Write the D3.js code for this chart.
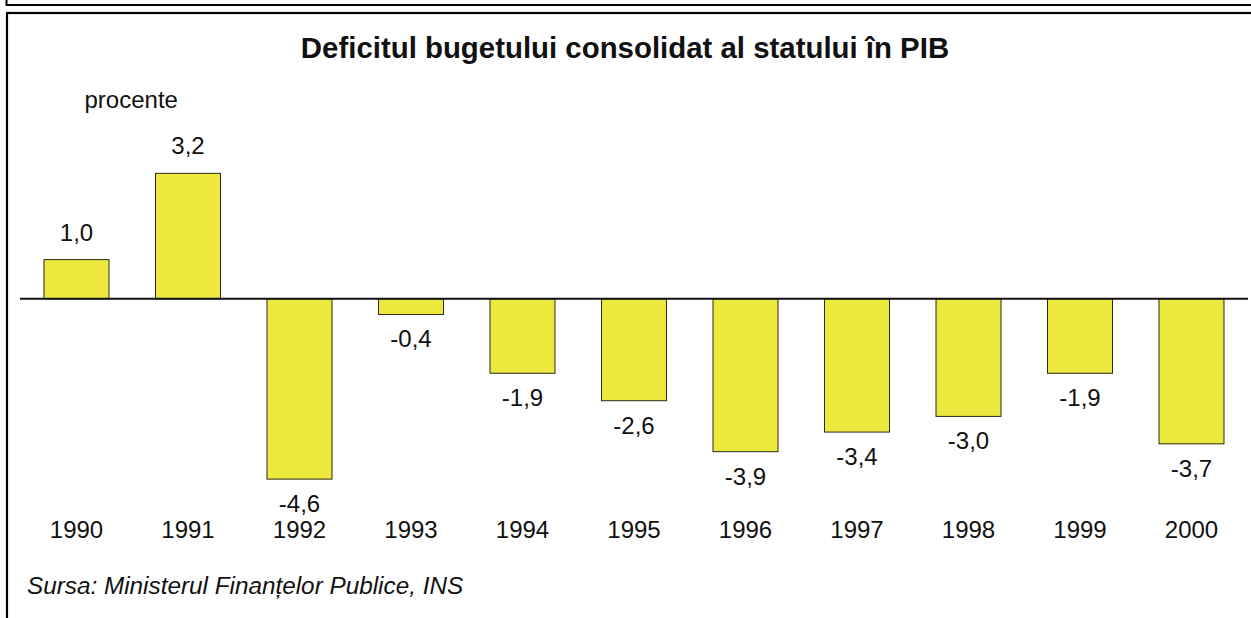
<!DOCTYPE html>
<html>
<head>
<meta charset="utf-8">
<script src="https://cdn.jsdelivr.net/npm/d3@7"></script>
<style>
  html, body { margin: 0; padding: 0; background: #fff; }
  svg { display: block; }
  text { font-family: "Liberation Sans", Arial, Helvetica, sans-serif; fill: #111; }
</style>
</head>
<body>
<svg id="chart" width="1251" height="618"></svg>
<script>
const years = ["1990","1991","1992","1993","1994","1995","1996","1997","1998","1999","2000"];
const values = [1.0, 3.2, -4.6, -0.4, -1.9, -2.6, -3.9, -3.4, -3.0, -1.9, -3.7];
const valueLabels = ["1,0","3,2","-4,6","-0,4","-1,9","-2,6","-3,9","-3,4","-3,0","-1,9","-3,7"];
const titleText = "Deficitul bugetului consolidat al statului în PIB";
const unitText = "procente";
const sourceText = "Sursa: Ministerul Finanțelor Publice, INS";

const svg = d3.select("#chart");

// frames
svg.append("path").attr("d", "M6.5,0 V5 H1251")
  .attr("fill", "none").attr("stroke", "#000").attr("stroke-width", 2);
svg.append("rect").attr("x", 7).attr("y", 13).attr("width", 1400).attr("height", 800)
  .attr("fill", "none").attr("stroke", "#000").attr("stroke-width", 2.2);

const pad = 0.417;
const x = d3.scaleBand().domain(years).range([20.75, 1247.25])
  .paddingInner(pad).paddingOuter(pad / 2);
const zeroY = 298.8, unit = 39.2;
const y = d3.scaleLinear().domain([-5, 4]).range([zeroY + 5 * unit, zeroY - 4 * unit]);

// bars
svg.append("g").selectAll("rect").data(values).join("rect")
  .attr("x", (d, i) => x(years[i]))
  .attr("width", x.bandwidth())
  .attr("y", d => y(Math.max(0, d)))
  .attr("height", d => Math.abs(y(d) - y(0)))
  .attr("fill", "#ECE83E")
  .attr("stroke", "#2a2a1a")
  .attr("stroke-width", 1);

// zero line
svg.append("line").attr("x1", 20).attr("x2", 1248).attr("y1", y(0)).attr("y2", y(0))
  .attr("stroke", "#111").attr("stroke-width", 2);

// value labels
svg.append("g").selectAll("text").data(values).join("text")
  .attr("x", (d, i) => x(years[i]) + x.bandwidth() / 2)
  .attr("y", d => d >= 0 ? y(d) - 19 : y(d) + 33)
  .attr("text-anchor", "middle")
  .attr("font-size", 24)
  .text((d, i) => valueLabels[i]);

// x axis labels
const xAxis = d3.axisBottom(x).tickSize(0).tickPadding(0);
const gx = svg.append("g").attr("transform", "translate(0,519.5)").call(xAxis);
gx.select(".domain").remove();
gx.selectAll("text").attr("font-size", 24).attr("dy", "0.75em")
  .style("font-family", '"Liberation Sans", Arial, sans-serif').attr("fill", "#111");

// title
svg.append("text").attr("x", 625).attr("y", 58).attr("text-anchor", "middle")
  .attr("font-size", 29.4).attr("font-weight", "bold").text(titleText);

svg.append("text").attr("x", 84.5).attr("y", 108).attr("font-size", 24).text(unitText);

svg.append("text").attr("x", 27).attr("y", 594).attr("font-size", 24.3)
  .attr("font-style", "italic").text(sourceText);
</script>
</body>
</html>
